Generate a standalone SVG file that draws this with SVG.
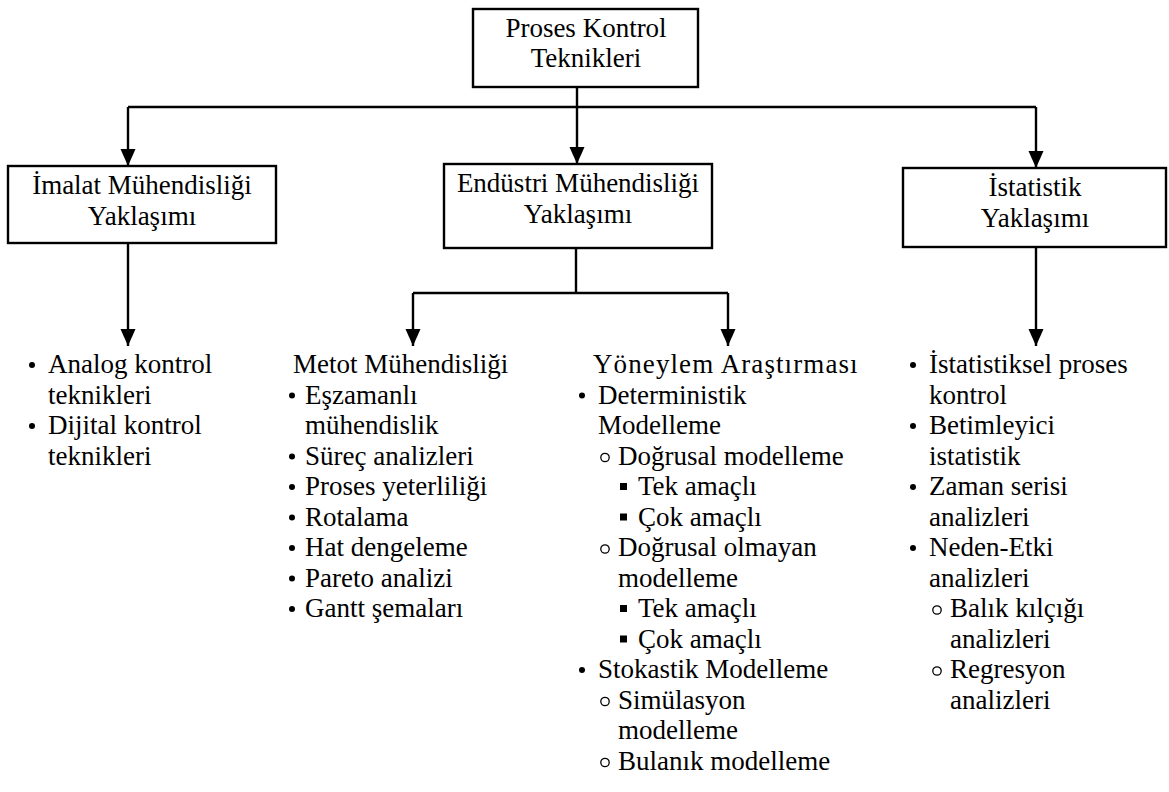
<svg xmlns="http://www.w3.org/2000/svg" width="1169" height="792" viewBox="0 0 1169 792">
  <style>
    text { font-family: "Liberation Serif", "Times New Roman", serif; font-size: 27px; fill: #000; }
    .c { text-anchor: middle; }
    .box { fill: #fff; stroke: #000; stroke-width: 2.4; }
    .wire { fill: none; stroke: #000; stroke-width: 2.4; }
    .arrow { fill: none; stroke: #000; stroke-width: 2.4; marker-end: url(#tip); }
    .dot { fill: #000; }
    .ring { fill: none; stroke: #000; stroke-width: 1.3; }
  </style>
  <defs>
    <marker id="tip" markerUnits="userSpaceOnUse" markerWidth="18" markerHeight="16" refX="17" refY="7.5" orient="auto">
      <path d="M0,0 L17,7.5 L0,15 z" fill="#000"/>
    </marker>
  </defs>
  <rect width="1169" height="792" fill="#fff"/>

  <!-- connectors -->
  <g id="connectors">
    <path class="wire" d="M577,87 V107"/>
    <path class="wire" d="M128,107 H1036"/>
    <path class="arrow" d="M128,107 V166"/>
    <path class="arrow" d="M577,107 V164"/>
    <path class="arrow" d="M1036,107 V168"/>
    <path class="arrow" d="M128,243 V346"/>
    <path class="wire" d="M576,248 V293"/>
    <path class="wire" d="M413,293 H728"/>
    <path class="arrow" d="M413,293 V346"/>
    <path class="arrow" d="M728,293 V346"/>
    <path class="arrow" d="M1036,247 V346"/>
  </g>

  <!-- root -->
  <g id="node-proses">
    <rect class="box" x="473" y="9" width="225" height="78"/>
    <text class="c" x="586" y="37">Proses Kontrol</text>
    <text class="c" x="586" y="67">Teknikleri</text>
  </g>

  <!-- approaches -->
  <g id="node-imalat">
    <rect class="box" x="8" y="166" width="268" height="77"/>
    <text class="c" x="142" y="194">İmalat Mühendisliği</text>
    <text class="c" x="142" y="225">Yaklaşımı</text>
  </g>
  <g id="node-endustri">
    <rect class="box" x="444" y="164" width="268" height="84"/>
    <text class="c" x="578" y="192">Endüstri Mühendisliği</text>
    <text class="c" x="578" y="223">Yaklaşımı</text>
  </g>
  <g id="node-istatistik">
    <rect class="box" x="903" y="168" width="263" height="79"/>
    <text class="c" x="1035" y="196">İstatistik</text>
    <text class="c" x="1035" y="227">Yaklaşımı</text>
  </g>

  <!-- manufacturing engineering list -->
  <g id="list-imalat">
    <circle class="dot" cx="32" cy="365" r="3"/>
    <text x="48" y="373">Analog kontrol</text>
    <text x="48" y="403.5">teknikleri</text>
    <circle class="dot" cx="32" cy="426" r="3"/>
    <text x="48" y="434">Dijital kontrol</text>
    <text x="48" y="464.5">teknikleri</text>
  </g>

  <!-- method engineering list -->
  <g id="list-metot">
    <text x="293" y="373">Metot Mühendisliği</text>
    <circle class="dot" cx="292" cy="395.5" r="3"/>
    <text x="305" y="403.5">Eşzamanlı</text>
    <text x="305" y="434">mühendislik</text>
    <circle class="dot" cx="292" cy="456.5" r="3"/>
    <text x="305" y="464.5">Süreç analizleri</text>
    <circle class="dot" cx="292" cy="487" r="3"/>
    <text x="305" y="495">Proses yeterliliği</text>
    <circle class="dot" cx="292" cy="517.5" r="3"/>
    <text x="305" y="525.5">Rotalama</text>
    <circle class="dot" cx="292" cy="548" r="3"/>
    <text x="305" y="556">Hat dengeleme</text>
    <circle class="dot" cx="292" cy="578.5" r="3"/>
    <text x="305" y="586.5">Pareto analizi</text>
    <circle class="dot" cx="292" cy="609" r="3"/>
    <text x="305" y="617">Gantt şemaları</text>
  </g>

  <!-- operations research list -->
  <g id="list-yoneylem">
    <text x="593" y="373" letter-spacing="1.1">Yöneylem Araştırması</text>
    <circle class="dot" cx="582" cy="395.5" r="3"/>
    <text x="598" y="403.5">Deterministik</text>
    <text x="598" y="434">Modelleme</text>
    <circle class="ring" cx="605" cy="457.5" r="4.2"/>
    <text x="618" y="464.5">Doğrusal modelleme</text>
    <rect class="dot" x="620" y="483" width="7" height="7"/>
    <text x="638" y="495">Tek amaçlı</text>
    <rect class="dot" x="620" y="513.5" width="7" height="7"/>
    <text x="638" y="525.5">Çok amaçlı</text>
    <circle class="ring" cx="605" cy="549" r="4.2"/>
    <text x="618" y="556">Doğrusal olmayan</text>
    <text x="618" y="586.5">modelleme</text>
    <rect class="dot" x="620" y="605" width="7" height="7"/>
    <text x="638" y="617">Tek amaçlı</text>
    <rect class="dot" x="620" y="635.5" width="7" height="7"/>
    <text x="638" y="647.5">Çok amaçlı</text>
    <circle class="dot" cx="582" cy="670" r="3"/>
    <text x="598" y="678">Stokastik Modelleme</text>
    <circle class="ring" cx="605" cy="701.5" r="4.2"/>
    <text x="618" y="708.5">Simülasyon</text>
    <text x="618" y="739">modelleme</text>
    <circle class="ring" cx="605" cy="762.5" r="4.2"/>
    <text x="618" y="769.5">Bulanık modelleme</text>
  </g>

  <!-- statistics list -->
  <g id="list-istatistik">
    <circle class="dot" cx="913" cy="365" r="3"/>
    <text x="929" y="373">İstatistiksel proses</text>
    <text x="929" y="403.5">kontrol</text>
    <circle class="dot" cx="913" cy="426" r="3"/>
    <text x="929" y="434">Betimleyici</text>
    <text x="929" y="464.5">istatistik</text>
    <circle class="dot" cx="913" cy="487" r="3"/>
    <text x="929" y="495">Zaman serisi</text>
    <text x="929" y="525.5">analizleri</text>
    <circle class="dot" cx="913" cy="548" r="3"/>
    <text x="929" y="556">Neden-Etki</text>
    <text x="929" y="586.5">analizleri</text>
    <circle class="ring" cx="937" cy="610" r="4.2"/>
    <text x="950" y="617">Balık kılçığı</text>
    <text x="950" y="647.5">analizleri</text>
    <circle class="ring" cx="937" cy="671" r="4.2"/>
    <text x="950" y="678">Regresyon</text>
    <text x="950" y="708.5">analizleri</text>
  </g>
</svg>
